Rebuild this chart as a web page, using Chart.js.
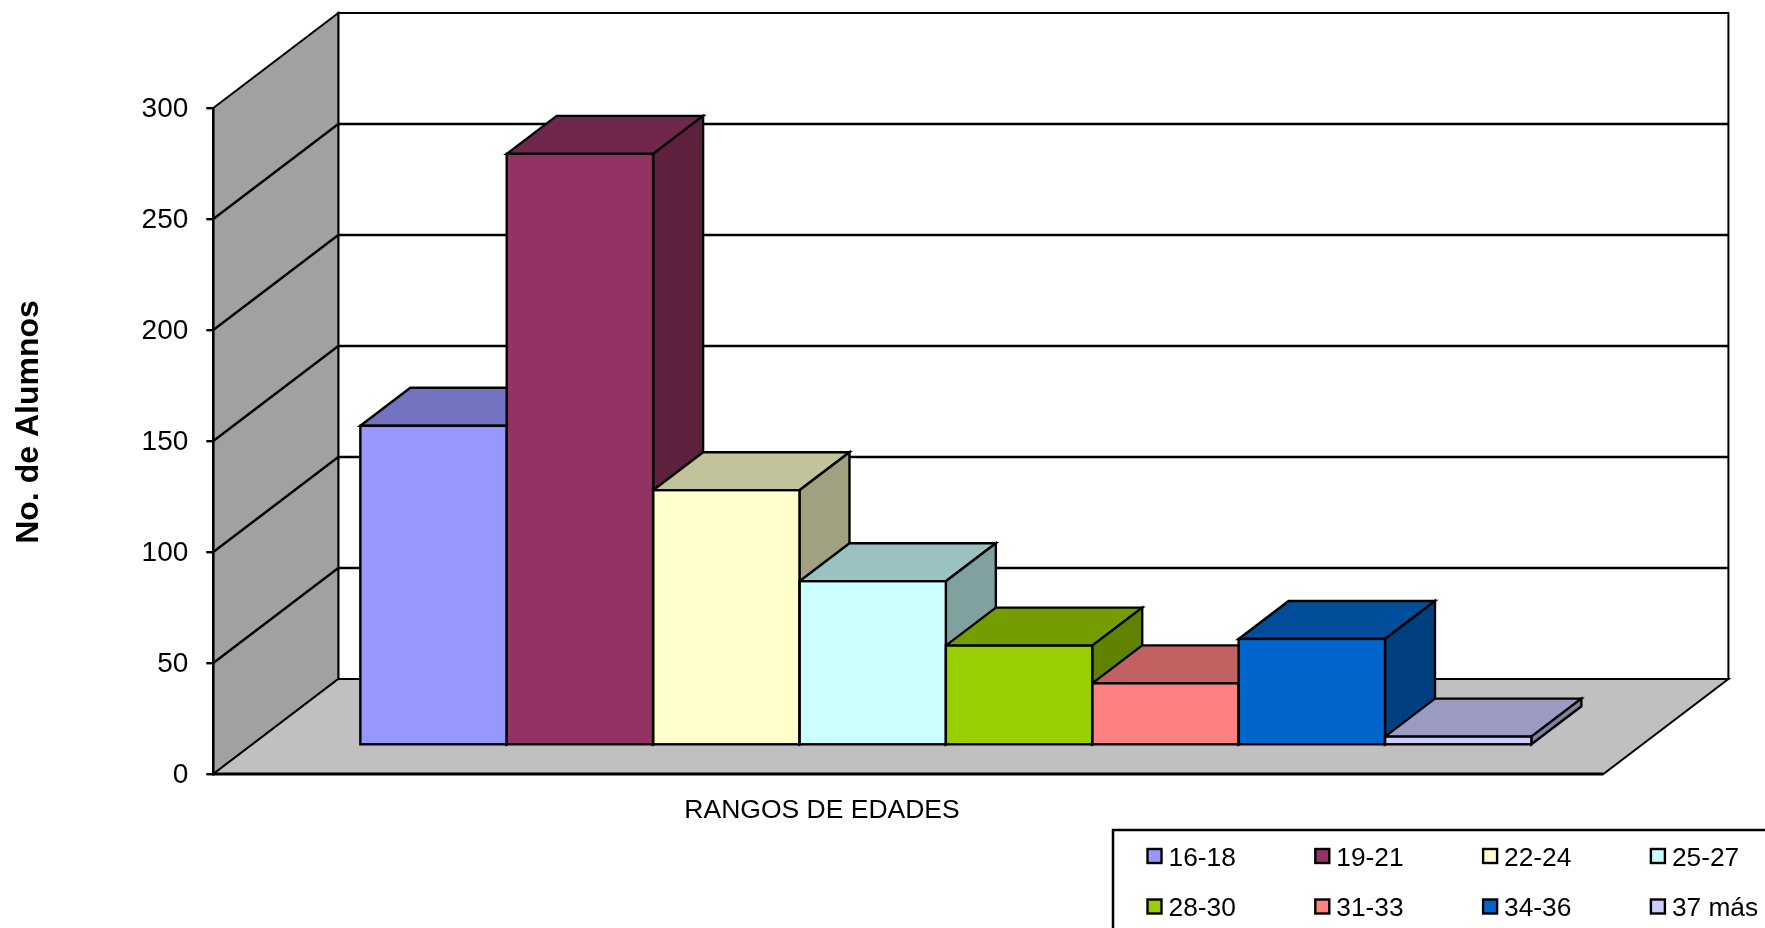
<!DOCTYPE html>
<html lang="es">
<head>
    <meta charset="UTF-8">
    <title>Rangos de edades</title>
    <script src="https://cdn.jsdelivr.net/npm/chart.js"></script>
    <style>
        html, body { margin: 0; padding: 0; background: #fff; overflow: hidden; }
        canvas { display: block; }
    </style>
</head>
<body>
    <canvas id="myChart" width="1765" height="928"></canvas>

<script>
    const rangos = ['16-18', '19-21', '22-24', '25-27', '28-30', '31-33', '34-36', '37 más'];
    const alumnos = [144, 266.5, 115, 74, 45, 28, 48, 4];
    const colores = ['#9797FF', '#933364', '#FFFFCC', '#CCFFFF', '#99CF00', '#FF8080', '#0066CC', '#CCCCFF'];
    const yTicks = [0, 50, 100, 150, 200, 250, 300];
    const categoria = 'RANGOS DE EDADES';
    const yTitulo = 'No. de Alumnos';

    // depth of the fake 3d box, and where the bars sit inside it
    const depthX = 125;
    const depthY = 95;
    const barFront = 0.3;
    const barDepth = 0.4;
    const fontName = '"Liberation Sans", Arial, sans-serif';

    const shade = (hex, k) => {
        const n = parseInt(hex.slice(1), 16);
        const r = Math.round((n >> 16) * k);
        const g = Math.round(((n >> 8) & 255) * k);
        const b = Math.round((n & 255) * k);
        return `rgb(${r},${g},${b})`;
    };

    const poly = (ctx, pts, fill, width) => {
        ctx.beginPath();
        pts.forEach((p, i) => i == 0 ? ctx.moveTo(p[0], p[1]) : ctx.lineTo(p[0], p[1]));
        ctx.closePath();
        if (fill) { ctx.fillStyle = fill; ctx.fill(); }
        if (width) { ctx.lineWidth = width; ctx.strokeStyle = '#000'; ctx.stroke(); }
    };

    const box3d = {
        id: 'box3d',
        beforeDraw(chart) {
            const ctx = chart.ctx;
            const y = chart.scales.y;
            const a = chart.chartArea;
            const top = y.getPixelForValue(yTicks[yTicks.length - 1]);
            const base = y.getPixelForValue(0);
            ctx.save();
            ctx.fillStyle = '#fff';
            ctx.fillRect(0, 0, chart.width, chart.height);
            // back wall
            poly(ctx, [[a.left + depthX, top - depthY], [a.right + depthX, top - depthY], [a.right + depthX, base - depthY], [a.left + depthX, base - depthY]], '#fff', 2);
            // left wall
            poly(ctx, [[a.left, top], [a.left + depthX, top - depthY], [a.left + depthX, base - depthY], [a.left, base]], '#A1A1A1', 2);
            // floor
            poly(ctx, [[a.left, base], [a.left + depthX, base - depthY], [a.right + depthX, base - depthY], [a.right, base]], '#C0C0C0', 2);
            // grid lines over both walls
            yTicks.slice(1, -1).forEach(v => {
                const py = y.getPixelForValue(v);
                ctx.beginPath();
                ctx.moveTo(a.left, py);
                ctx.lineTo(a.left + depthX, py - depthY);
                ctx.lineTo(a.right + depthX, py - depthY);
                ctx.lineWidth = 2.4;
                ctx.strokeStyle = '#000';
                ctx.stroke();
            });
            ctx.beginPath();
            ctx.moveTo(a.left, base);
            ctx.lineTo(a.right, base);
            ctx.lineWidth = 3;
            ctx.stroke();

            // axis names
            ctx.fillStyle = '#000';
            ctx.textAlign = 'center';
            ctx.textBaseline = 'alphabetic';
            ctx.font = `26.5px ${fontName}`;
            ctx.fillText(categoria, 822, 818);
            ctx.save();
            ctx.translate(38, 422);
            ctx.rotate(-Math.PI / 2);
            ctx.font = `bold 32px ${fontName}`;
            ctx.fillText(yTitulo, 0, 0);
            ctx.restore();
            ctx.restore();
        },
        beforeDatasetsDraw(chart) {
            const ctx = chart.ctx;
            const ox = depthX * barFront;
            const oy = depthY * barFront;
            const dx = depthX * barDepth;
            const dy = depthY * barDepth;
            // top and side faces left to right, the front faces then go over them
            rangos.forEach((r, i) => {
                const bar = chart.getDatasetMeta(i).data[0];
                const left = bar.x - bar.width / 2 + ox;
                const right = bar.x + bar.width / 2 + ox;
                const topY = bar.y - oy;
                const baseY = bar.base - oy;
                poly(ctx, [[left, topY], [left + dx, topY - dy], [right + dx, topY - dy], [right, topY]], shade(colores[i], 0.76), 2.4);
                poly(ctx, [[right, topY], [right + dx, topY - dy], [right + dx, baseY - dy], [right, baseY]], shade(colores[i], 0.63), 2.4);
            });
            ctx.save();
            ctx.translate(ox, -oy);
        },
        afterDatasetsDraw(chart) {
            const ctx = chart.ctx;
            ctx.lineWidth = 2.4;
            ctx.strokeStyle = '#000';
            rangos.forEach((r, i) => {
                const bar = chart.getDatasetMeta(i).data[0];
                ctx.strokeRect(bar.x - bar.width / 2, bar.y, bar.width, bar.base - bar.y);
            });
            ctx.restore();
        },
        afterDraw(chart) {
            // legend box runs off the page on the right and the bottom
            const ctx = chart.ctx;
            ctx.save();
            ctx.lineWidth = 2.5;
            ctx.strokeStyle = '#000';
            ctx.strokeRect(1113, 830, 800, 200);
            ctx.font = `26.3px ${fontName}`;
            ctx.textAlign = 'left';
            ctx.textBaseline = 'alphabetic';
            rangos.forEach((r, i) => {
                const col = i % 4;
                const row = Math.floor(i / 4);
                const x = 1147.5 + col * 167.8;
                const y = 849 + row * 50.5;
                ctx.fillStyle = colores[i];
                ctx.fillRect(x, y, 14, 14);
                ctx.lineWidth = 2.4;
                ctx.strokeRect(x, y, 14, 14);
                ctx.fillStyle = '#000';
                ctx.fillText(r, x + 21, y + 16.5);
            });
            ctx.restore();
        }
    };

    const ctx = document.getElementById('myChart').getContext('2d');
    new Chart(ctx, {
        type: 'bar',
        data: {
            labels: [categoria],
            datasets: rangos.map((r, i) => ({
                label: r,
                data: [alumnos[i]],
                backgroundColor: colores[i],
                borderWidth: 0,
                clip: false
            }))
        },
        options: {
            responsive: false,
            animation: false,
            devicePixelRatio: 1,
            categoryPercentage: 0.8424,
            barPercentage: 1,
            layout: {
                padding: { left: 0, top: 108, right: 161.6, bottom: 154 }
            },
            plugins: {
                legend: { display: false },
                tooltip: { enabled: false }
            },
            scales: {
                x: { display: false },
                y: {
                    min: 0,
                    max: 300,
                    afterBuildTicks: s => { s.ticks = yTicks.map(v => ({ value: v })); },
                    afterFit: s => { s.width = 213.3; },
                    border: { display: true, color: '#000', width: 2.4 },
                    grid: { drawOnChartArea: false, drawTicks: true, tickLength: 7, color: '#000', lineWidth: 2.4 },
                    ticks: {
                        padding: 18,
                        labelOffset: 1,
                        color: '#000',
                        font: { family: fontName, size: 28 }
                    }
                }
            }
        },
        plugins: [box3d]
    });
</script>
</body>
</html>
